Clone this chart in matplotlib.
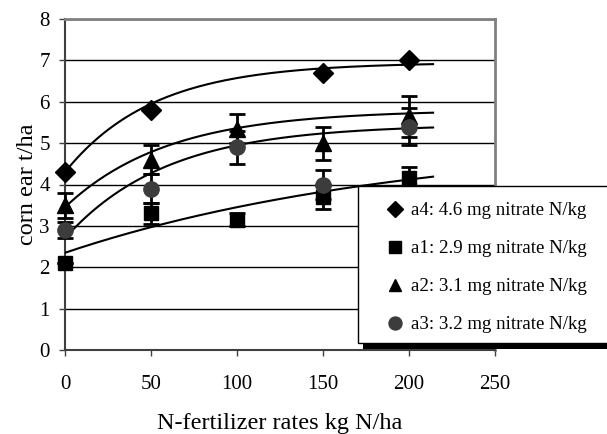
import numpy as np
import matplotlib
matplotlib.use("Agg")
import matplotlib.pyplot as plt
from matplotlib.patches import Rectangle

plt.rcParams['font.family'] = ['Liberation Serif', 'DejaVu Serif']

# N rates (kg N/ha)
n_rates = [0, 50, 100, 150, 200]

# corn ear yield t/ha per soil nitrate level
a4_yield = [4.3, 5.8, np.nan, 6.7, 7.0]
a1_yield = [2.1, 3.3, 3.15, 3.7, 4.15]
a2_yield = [3.5, 4.6, 5.35, 5.0, 5.65]
a3_yield = [2.9, 3.9, 4.9, 4.0, 5.4]

# error bars (+/-)
a1_err = [0.0, 0.25, 0.15, 0.3, 0.28]
a2_err = [0.3, 0.35, 0.35, 0.4, 0.5]
a3_err = [0.2, 0.35, 0.4, 0.35, 0.45]

# response curves y = A - B*exp(-k*x)
a4_curve = (6.95, 2.65, 0.0195)
a1_curve = (5.15, 2.8, 0.005)
a2_curve = (5.8, 2.35, 0.0168)
a3_curve = (5.45, 2.75, 0.017)

labels = ['a4: 4.6 mg nitrate N/kg', 'a1: 2.9 mg nitrate N/kg',
          'a2: 3.1 mg nitrate N/kg', 'a3: 3.2 mg nitrate N/kg']

fig = plt.figure(figsize=(6.07, 4.34), dpi=100)
ax = fig.add_axes([65/607, 1 - 350/434, 430/607, 331/434])

x_fit = np.linspace(0, 214, 200)
for A, B, k in [a4_curve, a1_curve, a2_curve, a3_curve]:
    ax.plot(x_fit, A - B*np.exp(-k*x_fit), color='black', lw=1.5, zorder=3)

# error bars
for y, e in [(a1_yield, a1_err), (a2_yield, a2_err), (a3_yield, a3_err)]:
    ax.errorbar(n_rates, y, yerr=e, fmt='none', ecolor='black', elinewidth=2,
                capsize=5.5, capthick=2, zorder=4, clip_on=False)

h4, = ax.plot(n_rates, a4_yield, 'D', color='black', ms=10, ls='none', zorder=5, clip_on=False)
h1, = ax.plot(n_rates, a1_yield, 's', color='black', ms=10, ls='none', zorder=5, clip_on=False)
h2, = ax.plot(n_rates, a2_yield, '^', color='black', ms=11, ls='none', zorder=5, clip_on=False)
h3, = ax.plot(n_rates, a3_yield, 'o', color='#3c3c3c', ms=11, ls='none', zorder=6, clip_on=False)

ax.set_xlim(0, 250)
ax.set_ylim(0, 8)
ax.set_xticks([0, 50, 100, 150, 200, 250])
ax.set_yticks(range(0, 9))
ax.yaxis.grid(True, color='black', lw=1)
ax.set_axisbelow(True)
for s in ['left', 'bottom']:
    ax.spines[s].set_color('#404040')
    ax.spines[s].set_linewidth(1.5)
for s in ['top', 'right']:
    ax.spines[s].set_color('#808080')
    ax.spines[s].set_linewidth(2)
ax.tick_params(axis='both', direction='out', length=4, width=1, color='#404040', labelsize=15)
ax.tick_params(axis='x', pad=14)
ax.tick_params(axis='y', pad=7)
ax.set_xlabel('N-fertilizer rates kg N/ha', fontsize=17.5, labelpad=14)
ax.set_ylabel('corn ear t/ha', fontsize=17.5, labelpad=1)

# legend box with shadow
W, H = 607, 434
fig.add_artist(Rectangle((363/W, 1 - 349/H), 260/W, 8/H, transform=fig.transFigure,
                         facecolor='black', edgecolor='none', zorder=9))
fig.add_artist(Rectangle((358/W, 1 - 343/H), 260/W, 157/H, transform=fig.transFigure,
                         facecolor='white', edgecolor='black', lw=1, zorder=10))
leg = fig.legend([h4, h1, h2, h3], labels, loc='upper left',
                 bbox_to_anchor=(386/W, 1 - 202/H), borderaxespad=0, borderpad=0,
                 frameon=False, fontsize=13.6, handlelength=1.0, handletextpad=0.3,
                 labelspacing=1.1, markerscale=0.85)
leg.set_zorder(11)

fig.savefig('out.png', dpi=100)
